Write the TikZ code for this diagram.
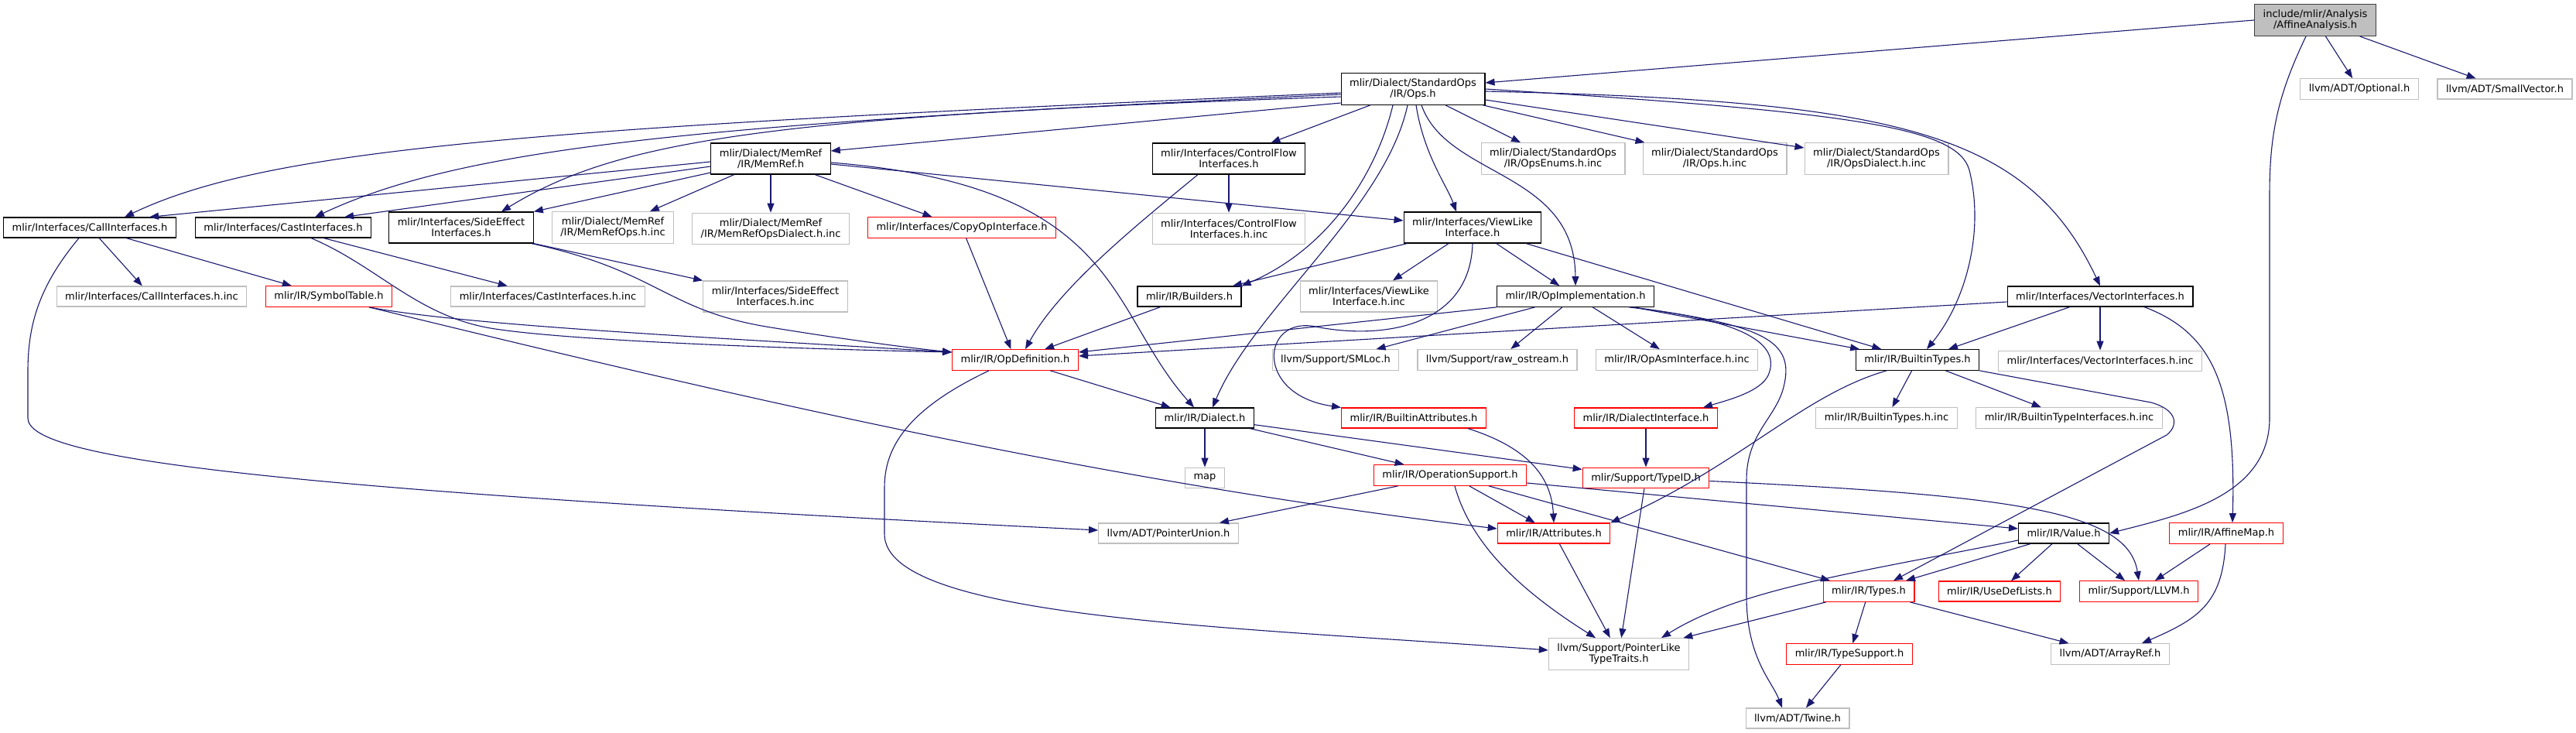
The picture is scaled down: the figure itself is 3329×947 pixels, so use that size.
\documentclass[tikz,border=0pt]{standalone}
\usepackage{fontspec}
\setmainfont{DejaVu Sans}
\definecolor{edgeblue}{HTML}{191970}
\definecolor{extgrey}{HTML}{BFBFBF}
\definecolor{rootfill}{HTML}{BFBFBF}
\definecolor{rootline}{HTML}{404040}
\definecolor{trunc}{HTML}{FF0000}
\usetikzlibrary{arrows.meta, positioning}

\begin{document}
\begin{tikzpicture}[x=1pt, y=-1pt,
            hdr/.style={draw=black, fill=white, line width=1.2pt,
                        font=\fontsize{13}{14}\selectfont, align=center,
                        inner xsep=11pt, inner ysep=7pt, minimum height=26pt},
            twoline/.style={minimum height=40pt},
            hdrext/.style={hdr, draw=extgrey},
            hdrcut/.style={hdr, draw=trunc},
            hdrroot/.style={hdr, fill=rootfill, draw=rootline},
            dep/.style={-{Triangle[length=12pt, width=9pt]}, line width=1.1pt, color=edgeblue}
          ]
          \path[fill=white, use as bounding box] (0,0) rectangle (3329,947);
          \node[hdrroot, twoline] (root) at (2992,26) {include/mlir/Analysis\\/AffineAnalysis.h};
          \node[hdr, twoline] (ops) at (1826,115) {mlir/Dialect/StandardOps\\/IR/Ops.h};
          \node[hdrext] (optional) at (3049,115) {llvm/ADT/Optional.h};
          \node[hdrext] (smallvec) at (3237,115) {llvm/ADT/SmallVector.h};
          \node[hdr, twoline] (memref) at (996,205) {mlir/Dialect/MemRef\\/IR/MemRef.h};
          \node[hdr, twoline] (ctrlflow) at (1588,205) {mlir/Interfaces/ControlFlow\\Interfaces.h};
          \node[hdrext, twoline] (opsenums) at (2007,205) {mlir/Dialect/StandardOps\\/IR/OpsEnums.h.inc};
          \node[hdrext, twoline] (opsinc) at (2216,205) {mlir/Dialect/StandardOps\\/IR/Ops.h.inc};
          \node[hdrext, twoline] (opsdialect) at (2425,205) {mlir/Dialect/StandardOps\\/IR/OpsDialect.h.inc};
          \node[hdr] (callif) at (116,294) {mlir/Interfaces/CallInterfaces.h};
          \node[hdr] (castif) at (366,294) {mlir/Interfaces/CastInterfaces.h};
          \node[hdr, twoline] (sideeff) at (596,294) {mlir/Interfaces/SideEffect\\Interfaces.h};
          \node[hdrext, twoline] (memrefops) at (792,294) {mlir/Dialect/MemRef\\/IR/MemRefOps.h.inc};
          \node[hdrext, twoline, below=49pt of memref] (memrefdial) {mlir/Dialect/MemRef\\/IR/MemRefOpsDialect.h.inc};
          \node[hdrcut] (copyop) at (1243,294) {mlir/Interfaces/CopyOpInterface.h};
          \node[hdrext, twoline, below=49pt of ctrlflow] (ctrlflowinc) {mlir/Interfaces/ControlFlow\\Interfaces.h.inc};
          \node[hdr, twoline] (viewlike) at (1903,294) {mlir/Interfaces/ViewLike\\Interface.h};
          \node[hdrext] (callifinc) at (196,383) {mlir/Interfaces/CallInterfaces.h.inc};
          \node[hdrcut] (symtab) at (425,383) {mlir/IR/SymbolTable.h};
          \node[hdrext] (castifinc) at (708,383) {mlir/Interfaces/CastInterfaces.h.inc};
          \node[hdrext, twoline] (sideeffinc) at (1002,383) {mlir/Interfaces/SideEffect\\Interfaces.h.inc};
          \node[hdr] (builders) at (1537,383) {mlir/IR/Builders.h};
          \node[hdrext, twoline] (viewlikeinc) at (1769,383) {mlir/Interfaces/ViewLike\\Interface.h.inc};
          \node[hdr] (opimpl) at (2036,383) {mlir/IR/OpImplementation.h};
          \node[hdr] (vecif) at (2714,383) {mlir/Interfaces/VectorInterfaces.h};
          \node[hdrcut] (opdef) at (1312,465) {mlir/IR/OpDefinition.h};
          \node[hdrext] (smloc) at (1726,465) {llvm/Support/SMLoc.h};
          \node[hdrext] (rawos) at (1935,465) {llvm/Support/raw\_ostream.h};
          \node[hdrext] (opasm) at (2167,465) {mlir/IR/OpAsmInterface.h.inc};
          \node[hdr] (btypes) at (2478,465) {mlir/IR/BuiltinTypes.h};
          \node[hdrext, below=56pt of vecif] (vecifinc) {mlir/Interfaces/VectorInterfaces.h.inc};
          \node[hdr] (dialect) at (1557,540) {mlir/IR/Dialect.h};
          \node[hdrcut] (battrs) at (1827,540) {mlir/IR/BuiltinAttributes.h};
          \node[hdrcut] (dialif) at (2127,540) {mlir/IR/DialectInterface.h};
          \node[hdrext] (btypesinc) at (2438,540) {mlir/IR/BuiltinTypes.h.inc};
          \node[hdrext] (btypeif) at (2674,540) {mlir/IR/BuiltinTypeInterfaces.h.inc};
          \node[hdrext, below=50pt of dialect] (map) {map};
          \node[hdrcut] (opsupp) at (1874,614) {mlir/IR/OperationSupport.h};
          \node[hdrcut, below=50pt of dialif] (typeid) {mlir/Support/TypeID.h};
          \node[hdrext] (ptrunion) at (1510,689) {llvm/ADT/PointerUnion.h};
          \node[hdrcut] (attrs) at (2008,689) {mlir/IR/Attributes.h};
          \node[hdr] (value) at (2667,689) {mlir/IR/Value.h};
          \node[hdrcut] (affmap) at (2877,689) {mlir/IR/AffineMap.h};
          \node[hdrcut] (types) at (2415,764) {mlir/IR/Types.h};
          \node[hdrcut] (usedef) at (2584,764) {mlir/IR/UseDefLists.h};
          \node[hdrcut] (llvmh) at (2764,764) {mlir/Support/LLVM.h};
          \node[hdrext, twoline] (ptrlike) at (2092,845) {llvm/Support/PointerLike\\TypeTraits.h};
          \node[hdrcut] (typesupp) at (2390,845) {mlir/IR/TypeSupport.h};
          \node[hdrext] (arrayref) at (2727,845) {llvm/ADT/ArrayRef.h};
          \node[hdrext] (twine) at (2323,928) {llvm/ADT/Twine.h};

          \draw[dep] (root.west) -- ([yshift=8pt]ops.east);
          \draw[dep] (root) -- (optional); \draw[dep] (root) -- (smallvec);
          \draw[dep] ([xshift=-12pt]root.south) .. controls (2945,120) and (2933,170) .. (2933,250) -- (2933,540) .. controls (2933,640) and (2820,665) .. (value.east);

          \draw[dep] ([yshift=-5pt]ops.west) .. controls (700,165) and (350,190) .. ([xshift=45pt]callif.north);
          \draw[dep] ([yshift=-7pt]ops.west) .. controls (900,160) and (600,190) .. ([xshift=41pt]castif.north);
          \draw[dep] ([yshift=-10pt]ops.west) .. controls (1000,150) and (800,180) .. ([xshift=52pt]sideeff.north);
          \draw[dep] ([yshift=-18pt]ops.west) -- ([yshift=10pt]memref.east);
          \draw[dep] (ops) -- (ctrlflow); \draw[dep] (ops) -- (opsenums);
          \draw[dep] (ops) -- (opsinc); \draw[dep] (ops) -- (opsdialect);
          \draw[dep] ([yshift=-3pt]ops.east) .. controls (2450,130) and (2620,170) .. (vecif.north);
          \draw[dep] (ops.east) .. controls (2400,145) and (2530,165) .. (2545,220) .. controls (2565,300) and (2540,390) .. ([xshift=12pt]btypes.north);
          \draw[dep] ([xshift=4pt]ops.south) .. controls (1840,200) and (1870,240) .. ([xshift=-21pt]viewlike.north);
          \draw[dep] ([xshift=11pt]ops.south) .. controls (1870,230) and (2035,220) .. (opimpl.north);
          \draw[dep] ([xshift=-26pt]ops.south) .. controls (1780,220) and (1720,320) .. (builders.north east);
          \draw[dep] ([xshift=-7pt]ops.south) .. controls (1790,270) and (1620,400) .. ([xshift=10pt]dialect.north);

          \draw[dep] ([yshift=-4pt]memref.west) -- ([xshift=77pt]callif.north);
          \draw[dep] ([yshift=-10pt]memref.west) -- ([xshift=79pt]castif.north);
          \draw[dep] ([yshift=-18pt]memref.west) -- (sideeff.north east);
          \draw[dep] (memref) -- (memrefops); \draw[dep] (memref) -- (memrefdial); \draw[dep] (memref) -- (copyop);
          \draw[dep] ([yshift=-7pt]memref.east) -- ([yshift=9pt]viewlike.west);
          \draw[dep] ([yshift=-5pt]memref.east) .. controls (1450,240) and (1430,400) .. ([xshift=-14pt]dialect.north);

          \draw[dep] (ctrlflow) -- (ctrlflowinc);
          \draw[dep] ([xshift=-40pt]ctrlflow.south) .. controls (1470,290) and (1370,370) .. ([xshift=13pt]opdef.north);

          \draw[dep] (callif) -- (callifinc); \draw[dep] (callif) -- (symtab);
          \draw[dep] ([xshift=-14pt]callif.south) .. controls (50,370) and (36,420) .. (36,480) -- (36,540) .. controls (36,590) and (300,630) .. ([yshift=4pt]ptrunion.west);

          \draw[dep] (castif) -- (castifinc);
          \draw[dep] ([xshift=36pt]castif.south) .. controls (490,345) and (540,410) .. (640,425) .. controls (740,440) and (1000,450) .. ([yshift=10pt]opdef.west);

          \draw[dep] (sideeff.south east) -- (sideeffinc.north west);
          \draw[dep] ([xshift=-3pt]sideeff.south east) .. controls (850,350) and (860,400) .. (990,422) .. controls (1100,440) and (1180,450) .. ([yshift=10pt]opdef.west);

          \draw[dep] ([xshift=52pt]symtab.south) .. controls (600,420) and (900,435) .. ([yshift=10pt]opdef.west);
          \draw[dep] ([xshift=52pt]symtab.south) .. controls (900,500) and (1400,620) .. ([yshift=6pt]attrs.west);

          \draw[dep] (copyop) -- (opdef); \draw[dep] (builders) -- (opdef);

          \draw[dep] (viewlike) -- (viewlikeinc); \draw[dep] (viewlike) -- (opimpl);
          \draw[dep] (viewlike) -- (btypes); \draw[dep] (viewlike) -- (builders);
          \draw[dep] (viewlike.south) .. controls (1900,420) and (1790,440) .. (1700,422) .. controls (1630,408) and (1620,510) .. (battrs.north west);

          \draw[dep] (opimpl) -- (smloc); \draw[dep] (opimpl) -- (rawos);
          \draw[dep] (opimpl) -- (opasm); \draw[dep] (opimpl) -- (btypes);
          \draw[dep] (opimpl.south west) -- ([yshift=10pt]opdef.east);
          \draw[dep] ([xshift=69pt]opimpl.south) .. controls (2270,415) and (2300,450) .. (2285,485) .. controls (2275,505) and (2240,515) .. ([xshift=74pt]dialif.north);
          \draw[dep] ([xshift=74pt]opimpl.south) .. controls (2280,420) and (2320,440) .. (2305,500) .. controls (2295,540) and (2257,560) .. (2257,620) -- (2257,770) .. controls (2257,850) and (2290,880) .. ([xshift=-20pt]twine.north);

          \draw[dep] (btypes) -- (btypesinc); \draw[dep] (btypes) -- (btypeif);
          \draw[dep] ([xshift=-40pt]btypes.south) .. controls (2330,510) and (2250,600) .. (attrs.north east);
          \draw[dep] (btypes.south east) -- (2780,520) .. controls (2815,530) and (2815,550) .. (2800,562) -- ([xshift=32pt]types.north);

          \draw[dep] ([yshift=-7pt]vecif.west) -- ([yshift=5pt]opdef.east);
          \draw[dep] (vecif) -- (btypes); \draw[dep] (vecif) -- (vecifinc);
          \draw[dep] ([xshift=57pt]vecif.south) .. controls (2860,430) and (2890,500) .. ([xshift=8pt]affmap.north);

          \draw[dep] (opdef) -- (dialect);
          \draw[dep] ([xshift=-34pt]opdef.south) .. controls (1170,530) and (1143,580) .. (1143,630) -- (1143,690) .. controls (1143,800) and (1600,810) .. ([yshift=5pt]ptrlike.west);

          \draw[dep] (dialect) -- (map); \draw[dep] (dialect) -- (opsupp); \draw[dep] (dialect) -- (typeid);

          \draw[dep] (opsupp) -- (ptrunion); \draw[dep] (opsupp) -- (attrs); \draw[dep] (opsupp) -- (types);
          \draw[dep] ([xshift=6pt]opsupp.south) .. controls (1900,700) and (1960,760) .. ([xshift=-30pt]ptrlike.north);
          \draw[dep] ([yshift=-10pt]opsupp.east) -- ([yshift=6pt]value.west);

          \draw[dep] (typeid) -- (ptrlike);
          \draw[dep] ([yshift=-4pt]typeid.east) .. controls (2600,640) and (2750,660) .. (llvmh.north);
          \draw[dep] (dialif) -- (typeid);
          \draw[dep] ([xshift=70pt]battrs.south) .. controls (1980,580) and (2005,620) .. (attrs.north);
          \draw[dep] (attrs) -- (ptrlike);

          \draw[dep] (value) -- (usedef); \draw[dep] (value) -- (llvmh);
          \draw[dep] ([yshift=-9pt]value.west) .. controls (2400,740) and (2250,760) .. ([xshift=55pt]ptrlike.north);
          \draw[dep] ([xshift=-43pt]value.south) -- ([xshift=48pt]types.north);

          \draw[dep] (affmap) -- (llvmh);
          \draw[dep] ([xshift=-1pt]affmap.south) .. controls (2872,780) and (2840,800) .. ([xshift=41pt]arrayref.north);

          \draw[dep] (types) -- (ptrlike); \draw[dep] (types) -- (typesupp); \draw[dep] (types) -- (arrayref);
          \draw[dep] (typesupp) -- (twine);
        \end{tikzpicture}
\end{document}
